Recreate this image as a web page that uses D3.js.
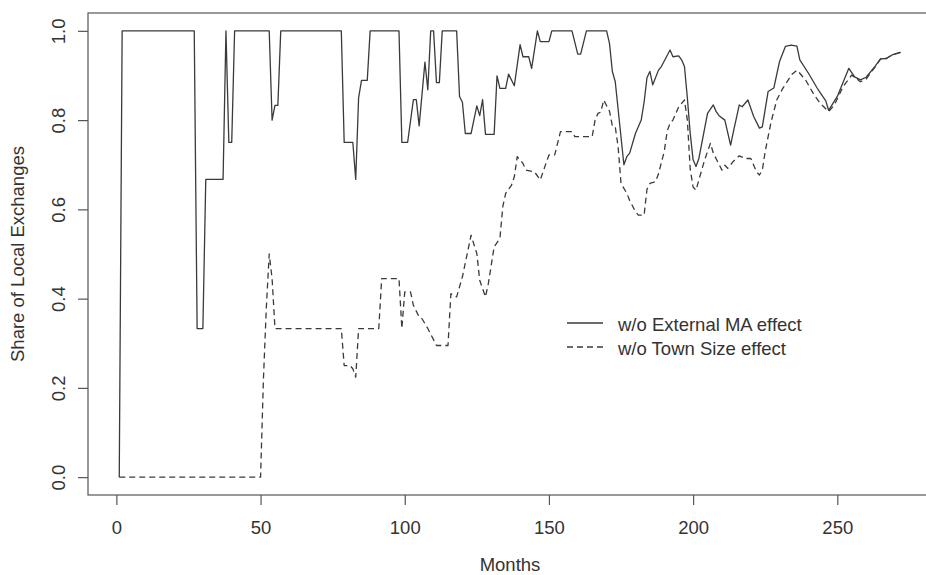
<!DOCTYPE html>
<html>
<head>
<meta charset="utf-8">
<script src="https://cdn.jsdelivr.net/npm/d3@7"></script>
<style>
  body { margin: 0; background: #fff; }
  svg text { font-family: "Liberation Sans", Arial, sans-serif; fill: #333; }
</style>
</head>
<body>
<div id="vis"></div>
<script>
const WIDTH = 926;
const HEIGHT = 575;
const BOX = { left: 88, top: 13, right: 932, bottom: 495 };
const FONT_SIZE = 18.5;
const INK = "#3a3a3a";

// ############
// data
// ############
const N_MONTHS = 272;

// w/o External MA effect (solid)
const monthsExt = [1, 2, 27, 28, 30, 31, 37, 38, 39, 40, 41, 53, 54, 55, 56, 57, 78, 79, 82, 83,
  84, 85, 87, 88, 98, 99, 101, 103, 104, 105, 107, 108, 109, 110, 111, 112, 113, 118, 119, 120,
  121, 123, 125, 126, 127, 128, 131, 132, 133, 135, 136, 138, 140, 141, 143, 144, 146, 147, 150, 151,
  158, 160, 161, 163, 170, 171, 172, 173, 176, 177, 178, 180, 182, 183, 184, 185, 186, 188, 189, 192,
  193, 195, 196, 197, 198, 199, 200, 201, 202, 205, 207, 208, 209, 211, 213, 214, 216, 217, 219, 221,
  223, 224, 226, 228, 230, 232, 234, 236, 237, 240, 243, 244, 246, 247, 250, 254, 256, 258, 260, 263,
  265, 267, 269, 272];
const shareExt = [0, 1, 1, 0.333, 0.333, 0.667, 0.667, 1, 0.75, 0.75, 1, 1, 0.8, 0.833, 0.833, 1, 1, 0.75, 0.75, 0.667,
  0.85, 0.889, 0.889, 1, 1, 0.75, 0.75, 0.846, 0.846, 0.787, 0.93, 0.868, 1, 1, 0.884, 0.884, 1, 1, 0.853, 0.84,
  0.77, 0.77, 0.832, 0.81, 0.846, 0.768, 0.768, 0.899, 0.871, 0.871, 0.903, 0.877, 0.969, 0.942, 0.942, 0.916, 1, 0.976, 0.976, 1,
  1, 0.948, 0.948, 1, 1, 0.972, 0.909, 0.886, 0.7, 0.718, 0.726, 0.77, 0.8, 0.84, 0.895, 0.909, 0.879, 0.912, 0.92, 0.957,
  0.942, 0.944, 0.935, 0.92, 0.85, 0.77, 0.711, 0.696, 0.714, 0.815, 0.834, 0.819, 0.81, 0.8, 0.744, 0.775, 0.834, 0.83, 0.845, 0.808,
  0.782, 0.785, 0.864, 0.872, 0.932, 0.965, 0.968, 0.966, 0.935, 0.905, 0.872, 0.862, 0.843, 0.822, 0.853, 0.916, 0.897, 0.89, 0.896, 0.92,
  0.937, 0.938, 0.946, 0.952];

// w/o Town Size effect (dashed)
const monthsTown = [1, 50, 51, 52, 53, 54, 55, 78, 79, 81, 82, 83, 84, 91, 92, 98, 99, 100, 102, 103,
  105, 106, 108, 111, 115, 116, 118, 120, 123, 125, 126, 128, 129, 131, 133, 134, 135, 137, 138, 139,
  141, 142, 145, 147, 150, 152, 154, 158, 159, 165, 166, 167, 168, 169, 171, 172, 173, 174, 175, 177,
  178, 180, 181, 183, 184, 185, 187, 188, 190, 191, 192, 193, 195, 197, 198, 199, 200, 201, 202, 204,
  206, 207, 210, 211, 212, 214, 216, 218, 220, 222, 223, 224, 225, 227, 229, 231, 233, 234, 236, 237,
  239, 242, 244, 247, 249, 252, 255, 258, 260, 263, 265, 267, 269, 272];
const shareTown = [0, 0, 0.22, 0.38, 0.5, 0.445, 0.333, 0.333, 0.25, 0.25, 0.243, 0.224, 0.333, 0.333, 0.445, 0.445, 0.333, 0.415, 0.415, 0.385,
  0.359, 0.355, 0.333, 0.295, 0.295, 0.411, 0.404, 0.449, 0.542, 0.501, 0.441, 0.404, 0.434, 0.516, 0.535, 0.606, 0.636, 0.654, 0.673, 0.718,
  0.703, 0.688, 0.684, 0.666, 0.722, 0.722, 0.774, 0.774, 0.763, 0.763, 0.8, 0.815, 0.818, 0.845, 0.82, 0.787, 0.785, 0.74, 0.658, 0.636,
  0.62, 0.595, 0.587, 0.587, 0.645, 0.658, 0.662, 0.68, 0.73, 0.775, 0.793, 0.8, 0.83, 0.845, 0.8, 0.69, 0.65, 0.643, 0.666, 0.711,
  0.748, 0.726, 0.688, 0.699, 0.692, 0.708, 0.72, 0.714, 0.714, 0.684, 0.677, 0.688, 0.73, 0.795, 0.845, 0.87, 0.89, 0.901, 0.912, 0.905,
  0.89, 0.856, 0.838, 0.819, 0.834, 0.875, 0.901, 0.886, 0.892, 0.918, 0.937, 0.938, 0.946, 0.952];

const xTicks = [0, 50, 100, 150, 200, 250];
const yTicks = [0, 0.2, 0.4, 0.6, 0.8, 1.0];
const legendLabels = ["w/o External MA effect", "w/o Town Size effect"];
const dashes = ["none", "6,4"];

// ############
// scales (R style 4% padding)
// ############
const padX = 0.04 * (N_MONTHS - 1);
const x = d3.scaleLinear()
  .domain([1 - padX, N_MONTHS + padX])
  .range([BOX.left, BOX.right]);
const y = d3.scaleLinear()
  .domain([-0.04, 1.04])
  .range([BOX.bottom, BOX.top]);

const svg = d3.select("#vis")
  .append("svg")
  .attr("width", WIDTH)
  .attr("height", HEIGHT)
  .style("font-size", FONT_SIZE + "px");

// frame
svg.append("rect")
  .attr("x", BOX.left)
  .attr("y", BOX.top)
  .attr("width", BOX.right - BOX.left)
  .attr("height", BOX.bottom - BOX.top)
  .attr("fill", "none")
  .attr("stroke", "#555")
  .attr("stroke-width", 1.2);

// x axis
const gx = svg.append("g")
  .attr("transform", "translate(0," + BOX.bottom + ")")
  .call(d3.axisBottom(x).tickValues(xTicks).tickSize(10).tickFormat(d3.format("d")));
gx.select(".domain").remove();
gx.selectAll("line").attr("stroke", "#555").attr("stroke-width", 1.2);
gx.selectAll("text")
  .attr("y", 38.5)
  .attr("dy", 0)
  .attr("fill", "#333")
  .style("font-size", FONT_SIZE + "px")
  .style("font-family", "Liberation Sans, Arial, sans-serif");

// y axis
const gy = svg.append("g")
  .attr("transform", "translate(" + BOX.left + ",0)")
  .call(d3.axisLeft(y).tickValues(yTicks).tickSize(10).tickFormat(d3.format(".1f")));
gy.select(".domain").remove();
gy.selectAll("line").attr("stroke", "#555").attr("stroke-width", 1.2);
gy.selectAll("text")
  .attr("x", 0)
  .attr("dy", 0)
  .attr("text-anchor", "middle")
  .attr("transform", "translate(-23,0) rotate(-90)")
  .attr("fill", "#333")
  .style("font-size", FONT_SIZE + "px")
  .style("font-family", "Liberation Sans, Arial, sans-serif");

// axis titles
svg.append("text")
  .attr("x", (BOX.left + BOX.right) / 2)
  .attr("y", 571)
  .attr("text-anchor", "middle")
  .text("Months");

svg.append("text")
  .attr("transform", "translate(23.5," + (BOX.top + BOX.bottom) / 2 + ") rotate(-90)")
  .attr("text-anchor", "middle")
  .text("Share of Local Exchanges");

// series
const line = d3.line()
  .x((d) => x(d[0]))
  .y((d) => y(d[1]));

const series = [
  d3.zip(monthsExt, shareExt),
  d3.zip(monthsTown, shareTown)
];

svg.append("g")
  .selectAll("path")
  .data(series)
  .join("path")
  .attr("d", line)
  .attr("fill", "none")
  .attr("stroke", INK)
  .attr("stroke-width", 1.3)
  .attr("stroke-linejoin", "round")
  .attr("stroke-dasharray", (d, i) => dashes[i]);

// legend
const legend = svg.append("g")
  .selectAll("g")
  .data(legendLabels)
  .join("g")
  .attr("transform", (d, i) => "translate(567," + (323 + i * 24) + ")");

legend.append("line")
  .attr("x1", 0)
  .attr("x2", 36)
  .attr("stroke", INK)
  .attr("stroke-width", 1.3)
  .attr("stroke-dasharray", (d, i) => dashes[i]);

legend.append("text")
  .attr("x", 51)
  .attr("y", 8)
  .text((d) => d);
</script>
</body>
</html>
